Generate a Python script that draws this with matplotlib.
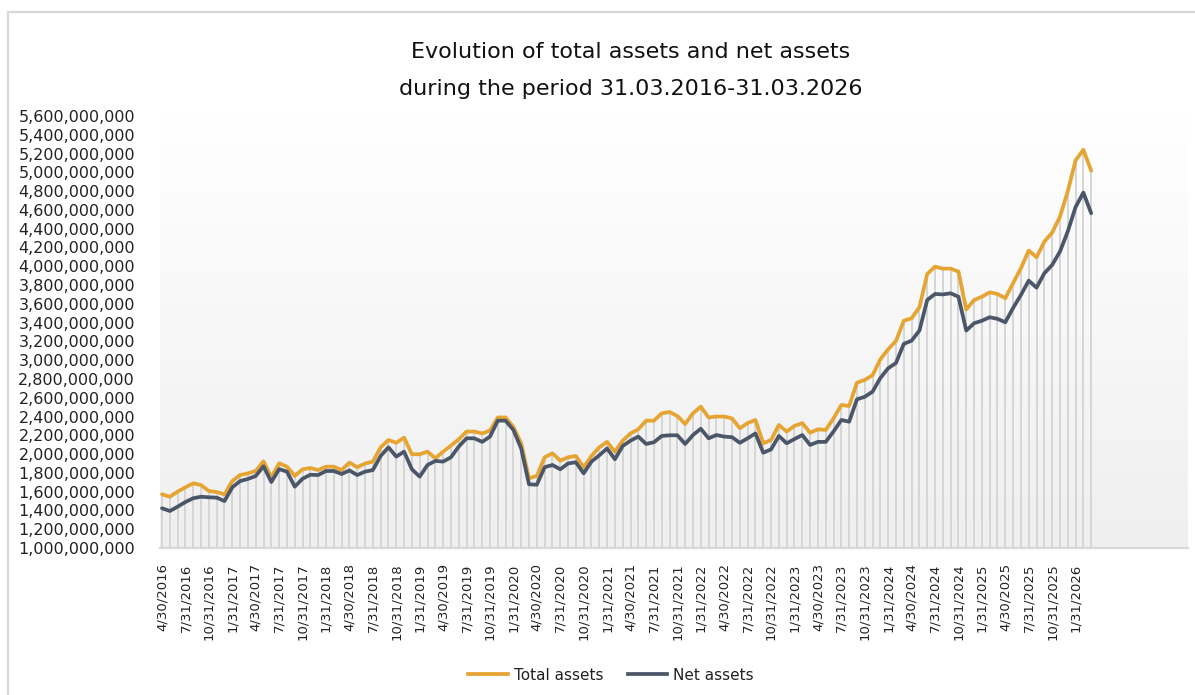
import numpy as np
import pandas as pd
import matplotlib
matplotlib.use("Agg")
import matplotlib.pyplot as plt
from matplotlib.colors import LinearSegmentedColormap
from matplotlib.patches import Rectangle
from matplotlib.ticker import FuncFormatter, MultipleLocator
from matplotlib.lines import Line2D

# ---- data (billions) ----
total_assets = [
    1.572, 1.546, 1.600, 1.646, 1.689, 1.670, 1.607, 1.596, 1.572, 1.713,
    1.777, 1.795, 1.820, 1.923, 1.753, 1.902, 1.866, 1.767, 1.838, 1.852,
    1.830, 1.866, 1.866, 1.830, 1.910, 1.860, 1.900, 1.920, 2.072, 2.150,
    2.120, 2.175, 1.998, 1.998, 2.026, 1.955, 2.026, 2.090, 2.157, 2.240,
    2.240, 2.220, 2.250, 2.390, 2.390, 2.290, 2.115, 1.742, 1.767, 1.966,
    2.008, 1.930, 1.966, 1.980, 1.860, 1.980, 2.072, 2.130, 2.026, 2.143,
    2.220, 2.264, 2.356, 2.356, 2.434, 2.448, 2.406, 2.320, 2.434, 2.505,
    2.390, 2.400, 2.400, 2.380, 2.275, 2.330, 2.363, 2.115, 2.150, 2.310,
    2.240, 2.300, 2.330, 2.228, 2.264, 2.257, 2.380, 2.523, 2.512, 2.760,
    2.790, 2.840, 3.010, 3.116, 3.205, 3.420, 3.446, 3.563, 3.918, 3.996,
    3.975, 3.975, 3.943, 3.540, 3.640, 3.676, 3.722, 3.705, 3.659, 3.820,
    3.979, 4.167, 4.096, 4.262, 4.358, 4.528, 4.797, 5.127, 5.240, 5.018,
]
net_assets = [
    1.423, 1.394, 1.440, 1.490, 1.530, 1.546, 1.540, 1.536, 1.500, 1.646,
    1.713, 1.735, 1.767, 1.870, 1.703, 1.840, 1.813, 1.653, 1.738, 1.780,
    1.777, 1.820, 1.820, 1.788, 1.826, 1.777, 1.813, 1.830, 1.980, 2.072,
    1.973, 2.026, 1.838, 1.760, 1.884, 1.927, 1.920, 1.966, 2.080, 2.168,
    2.168, 2.130, 2.186, 2.356, 2.356, 2.257, 2.060, 1.678, 1.674, 1.860,
    1.884, 1.838, 1.900, 1.913, 1.795, 1.920, 1.987, 2.060, 1.945, 2.086,
    2.143, 2.186, 2.108, 2.126, 2.193, 2.200, 2.200, 2.108, 2.203, 2.270,
    2.168, 2.203, 2.186, 2.180, 2.120, 2.168, 2.220, 2.015, 2.050, 2.193,
    2.115, 2.160, 2.203, 2.097, 2.130, 2.130, 2.240, 2.363, 2.345, 2.583,
    2.610, 2.665, 2.810, 2.914, 2.970, 3.173, 3.208, 3.315, 3.641, 3.705,
    3.700, 3.712, 3.676, 3.315, 3.393, 3.420, 3.457, 3.440, 3.404, 3.556,
    3.694, 3.847, 3.772, 3.925, 4.014, 4.156, 4.370, 4.630, 4.784, 4.565,
]
series_names = ["Total assets", "Net assets"]
title_lines = ["Evolution of total assets and net assets",
               "during the period 31.03.2016-31.03.2026"]

dates = pd.date_range("2016-04-30", periods=len(total_assets), freq="ME")
tick_idx = list(range(0, len(dates), 3))
tick_labels = [f"{dates[i].month}/{dates[i].day}/{dates[i].year}" for i in tick_idx]

total = np.array(total_assets) * 1e9
net = np.array(net_assets) * 1e9
x = np.arange(len(total))

W, H = 1195, 695
fig = plt.figure(figsize=(W / 100, H / 100), dpi=100)
fig.patch.set_facecolor("white")

# outer chart frame (top and left visible)
fig.add_artist(Rectangle((8 / W, -0.05), 1.2, 1 - 12 / H + 0.05,
                         transform=fig.transFigure, fill=False,
                         edgecolor="#d9d9d9", lw=1.6))

ax = fig.add_axes([160 / W, 1 - 548 / H, 1028 / W, 432 / H])
ax.set_xlim(-0.26, 131.4)
ax.set_ylim(1.0e9, 5.6e9)

# gradient background
cmap = LinearSegmentedColormap.from_list("bg", ["#efefef", "#ffffff"])
grad = np.linspace(0, 1, 256).reshape(-1, 1)
ax.imshow(grad, cmap=cmap, aspect="auto", extent=[0, 1, 0, 1],
          transform=ax.transAxes, origin="lower", zorder=0)

ax.vlines(x, 1.0e9, total, color="#d6d6d6", lw=1.4, zorder=1)
ax.plot(x, total, color="#E6A532", lw=2.7, solid_joinstyle="round",
        solid_capstyle="round", zorder=3)
ax.plot(x, net, color="#4B5769", lw=2.7, solid_joinstyle="round",
        solid_capstyle="round", zorder=4)

ax.yaxis.set_major_locator(MultipleLocator(2e8))
ax.yaxis.set_major_formatter(FuncFormatter(lambda v, p: f"{v:,.0f}"))
ax.set_xticks(tick_idx)
ax.set_xticklabels(tick_labels, rotation=90, fontsize=9.5, color="#222222")
ax.tick_params(axis="y", length=0, pad=18, labelsize=11.5, labelcolor="#222222")
ax.tick_params(axis="x", length=0, pad=11)

for s in ["top", "right", "left"]:
    ax.spines[s].set_visible(False)
ax.spines["bottom"].set_color("#d9d9d9")
ax.spines["bottom"].set_linewidth(1.6)

fig.text(631 / W, 1 - 52 / H, title_lines[0], ha="center", va="center",
         fontsize=16, color="#111111")
fig.text(631 / W, 1 - 89 / H, title_lines[1], ha="center", va="center",
         fontsize=16, color="#111111")

handles = [Line2D([], [], color="#E6A532", lw=2.7),
           Line2D([], [], color="#4B5769", lw=2.7)]
fig.legend(handles, series_names, loc="center", ncol=2, frameon=False,
           bbox_to_anchor=(611 / W, 1 - 675 / H), fontsize=11,
           handlelength=2.6, columnspacing=1.6, handletextpad=0.4,
           labelcolor="#222222")

fig.savefig("out.png", dpi=100)
